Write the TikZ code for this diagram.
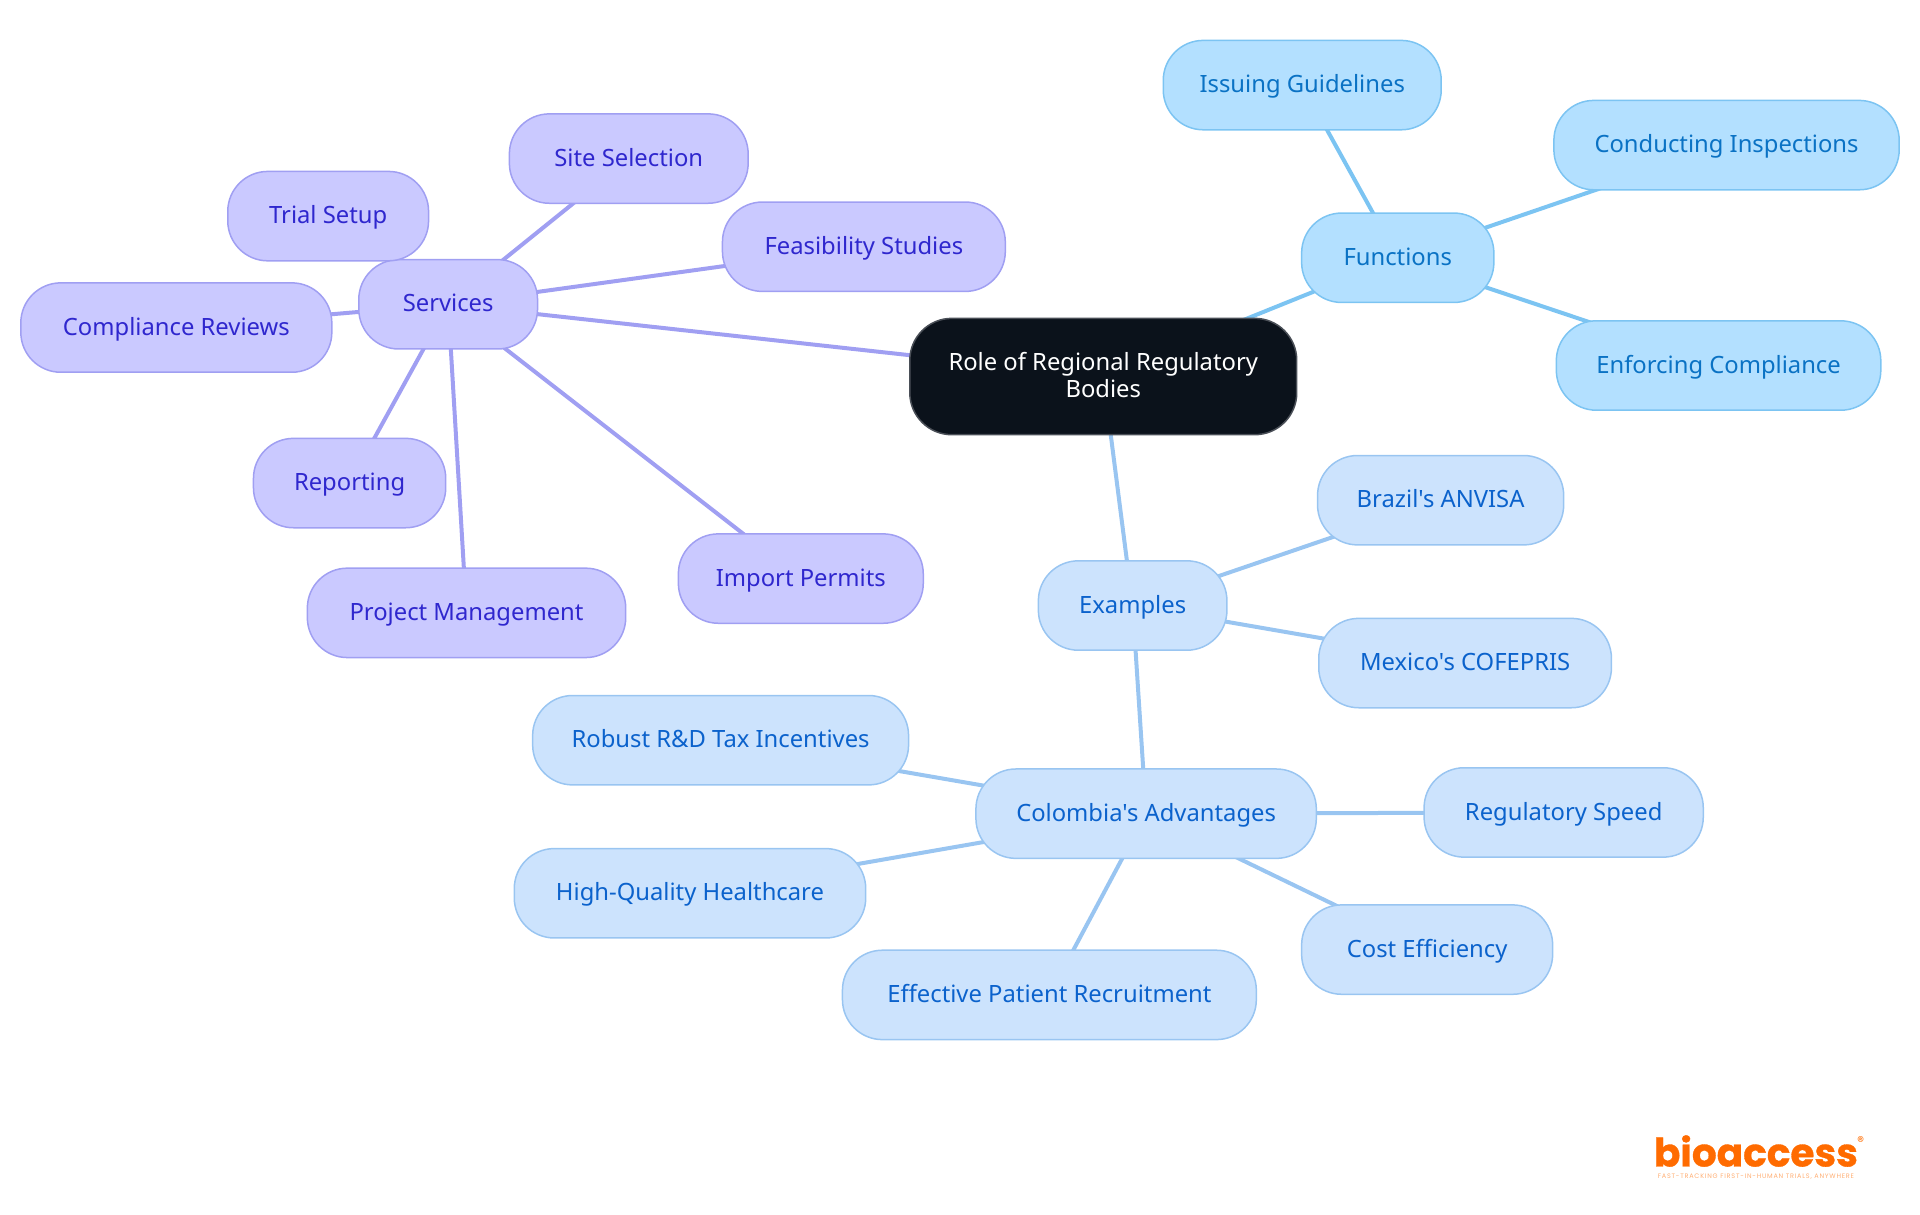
\documentclass[tikz,border=0pt]{standalone}
\usepackage{fontspec}
\setmainfont{Noto Sans}[Ligatures=TeXOff]
\newfontfamily\logofont{Poppins}[Ligatures=TeXOff,BoldFeatures={FakeBold=0.8}]
\newfontfamily\logotag{Poppins}[LetterSpace=12,Ligatures=TeXOff]
\usetikzlibrary{backgrounds}
\definecolor{rootfill}{HTML}{0B121B}
\definecolor{rootline}{HTML}{4A4F57}
\definecolor{fnfill}{HTML}{B3E0FF}
\definecolor{fnline}{HTML}{7CC4F2}
\definecolor{fntext}{HTML}{0A72C4}
\definecolor{exfill}{HTML}{CCE3FD}
\definecolor{exline}{HTML}{99C5F1}
\definecolor{extext}{HTML}{0B62CC}
\definecolor{svfill}{HTML}{CAC9FF}
\definecolor{svline}{HTML}{A09FF2}
\definecolor{svtext}{HTML}{2F27CE}
\definecolor{logoorange}{HTML}{FF6B00}
\tikzset{
  x=1.2245pt,y=-1.2245pt,
  box/.style={rounded corners=40pt,inner sep=0pt,line width=1.5pt,align=center,
    font=\fontsize{23.8}{27}\selectfont,text height=18.3pt,text depth=3.2pt},
  rootbox/.style={box,fill=rootfill,draw=rootline,text=white,text height=,text depth=2.4pt,rounded corners=42pt},
  fnbox/.style={box,fill=fnfill,draw=fnline,text=fntext},
  exbox/.style={box,fill=exfill,draw=exline,text=extext},
  svbox/.style={box,fill=svfill,draw=svline,text=svtext},
  fnlink/.style={draw=fnline,line width=4pt},
  exlink/.style={draw=exline,line width=4pt},
  svlink/.style={draw=svline,line width=4pt},
}
\newcommand\mapnode[6]{%
  \pgfmathsetmacro\nw{(#4-#3)*1.2245}%
  \pgfmathsetmacro\nh{(#6-#5)*1.2245}%
  \node[#1,minimum width=\nw pt,minimum height=\nh pt] (#2) at ({(#3+#4)/2},{(#5+#6)/2})}
\begin{document}
\begin{tikzpicture}
\useasboundingbox (0,0) rectangle (1568,992.2);
\mapnode{rootbox}{root}{743}{1059}{260}{355} {Role of Regional Regulatory\\Bodies};
\mapnode{fnbox}{functions}{1063}{1220}{174}{247} {Functions};
\mapnode{fnbox}{issuing}{950}{1177}{33}{106} {Issuing Guidelines};
\mapnode{fnbox}{conducting}{1269}{1551}{82}{155} {Conducting Inspections};
\mapnode{fnbox}{enforcing}{1271}{1536}{262}{335} {Enforcing Compliance};
\mapnode{exbox}{examples}{848}{1002}{458}{531} {Examples};
\mapnode{exbox}{brazil}{1076}{1277}{372}{445} {Brazil's ANVISA};
\mapnode{exbox}{mexico}{1077}{1316}{505}{578} {Mexico's COFEPRIS};
\mapnode{exbox}{colombia}{797}{1075}{628}{701} {Colombia's Advantages};
\mapnode{exbox}{robust}{435}{742}{568}{641} {Robust R\&D Tax Incentives};
\mapnode{exbox}{speed}{1163}{1391}{627}{700} {Regulatory Speed};
\mapnode{exbox}{quality}{420}{707}{693}{766} {High-Quality Healthcare};
\mapnode{exbox}{cost}{1063}{1268}{739}{812} {Cost Efficiency};
\mapnode{exbox}{recruit}{688}{1026}{776}{849} {Effective Patient Recruitment};
\mapnode{svbox}{services}{293}{439}{212}{285} {Services};
\mapnode{svbox}{site}{416}{611}{93}{166} {Site Selection};
\mapnode{svbox}{trial}{186}{350}{140}{213} {Trial Setup};
\mapnode{svbox}{feasibility}{590}{821}{165}{238} {Feasibility Studies};
\mapnode{svbox}{compliance}{17}{271}{231}{304} {Compliance Reviews};
\mapnode{svbox}{reporting}{207}{364}{358}{431} {Reporting};
\mapnode{svbox}{project}{251}{511}{464}{537} {Project Management};
\mapnode{svbox}{import}{554}{754}{436}{509} {Import Permits};
\begin{pgfonlayer}{background}
\draw[fnlink] (root.center) -- (functions.center);
\draw[fnlink] (functions.center) -- (issuing.center);
\draw[fnlink] (functions.center) -- (conducting.center);
\draw[fnlink] (functions.center) -- (enforcing.center);
\draw[exlink] (root.center) -- (examples.center);
\draw[exlink] (examples.center) -- (brazil.center);
\draw[exlink] (examples.center) -- (mexico.center);
\draw[exlink] (examples.center) -- (colombia.center);
\draw[exlink] (colombia.center) -- (robust.center);
\draw[exlink] (colombia.center) -- (speed.center);
\draw[exlink] (colombia.center) -- (quality.center);
\draw[exlink] (colombia.center) -- (cost.center);
\draw[exlink] (colombia.center) -- (recruit.center);
\draw[svlink] (root.center) -- (services.center);
\draw[svlink] (services.center) -- (site.center);
\draw[svlink] (services.center) -- (trial.center);
\draw[svlink] (services.center) -- (feasibility.center);
\draw[svlink] (services.center) -- (compliance.center);
\draw[svlink] (services.center) -- (reporting.center);
\draw[svlink] (services.center) -- (project.center);
\draw[svlink] (services.center) -- (import.center);
\end{pgfonlayer}
\node[inner sep=0pt,text=logoorange,font=\logofont\bfseries\fontsize{39}{39}\selectfont] (logo) at (1434,940) {bioaccess};
\node[inner sep=0pt,text=logoorange,font=\logofont\fontsize{14}{14}\selectfont] (reg) at (1519.5,932.5) {®};
\node[inner sep=0pt,text=logoorange!55,font=\logotag\fontsize{6.5}{8}\selectfont] (tag) at (1434,961) {FAST-TRACKING FIRST-IN-HUMAN TRIALS, ANYWHERE};
\end{tikzpicture}
\end{document}
